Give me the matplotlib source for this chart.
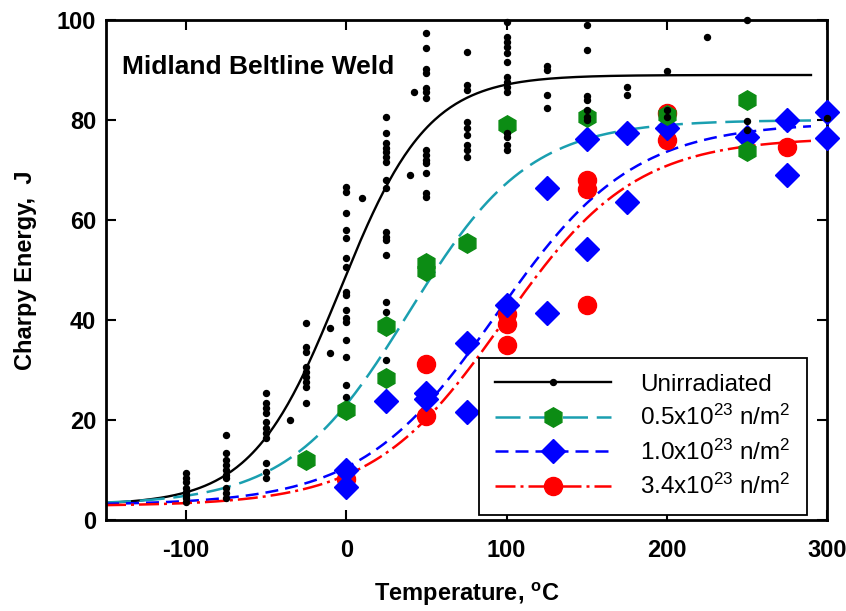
import numpy as np
import matplotlib
matplotlib.use('Agg')
import matplotlib.pyplot as plt
from matplotlib.lines import Line2D

plt.rcParams['font.family'] = ['Liberation Sans', 'DejaVu Sans']
plt.rcParams['mathtext.fontset'] = 'custom'
plt.rcParams['mathtext.rm'] = 'Liberation Sans'
plt.rcParams['mathtext.it'] = 'Liberation Sans:italic'
plt.rcParams['mathtext.bf'] = 'Liberation Sans:bold'
plt.rcParams['axes.unicode_minus'] = False

# ---------------- data ----------------
# Unirradiated Charpy tests (temperature C, energy J)
unirr_temp = ([-100] * 8 + [-75] * 10 + [-50] * 11 + [-35] + [-25] * 9 + [-10] * 2 +
              [0] * 16 + [10] + [25] * 16 + [40] + [42] + [50] * 14 + [75] * 9 +
              [100] * 14 + [125] * 4 + [150] * 7 + [175] * 2 + [200] * 3 + [225] +
              [250] * 3 + [300])
unirr_energy = [9.5, 8.4, 7.6, 6.4, 5.6, 5.0, 4.4, 3.6,
                17, 13.4, 12, 11, 10, 9, 8.4, 6.4, 5.4, 4.4,
                25.4, 23.4, 22.4, 21.4, 19.6, 18.4, 17.4, 16.4, 11.4, 9.6, 8.4,
                20,
                39.4, 34.6, 33.6, 30.6, 29.6, 28.6, 27.6, 26.6, 23.4,
                38.4, 33.4,
                66.6, 65.6, 61.4, 58, 56.4, 52.4, 50.6, 45.6, 45, 42, 40.4, 39.6, 36, 32.6, 27, 24.6,
                64.4,
                80.6, 77.4, 75.4, 74.4, 73.6, 72.6, 71.6, 68, 66.4, 57.6, 56.6, 56, 53, 43.6, 41.6, 32,
                69,
                85.6,
                97.4, 94.4, 90.2, 89.4, 86.4, 85.6, 84.4, 74, 73, 72, 71.4, 69.4, 65.4, 64.6,
                93.6, 87, 86, 79.6, 78.4, 77, 75, 74, 72.6,
                99.6, 96.6, 95.6, 94.6, 93.4, 91.6, 88.6, 87.6, 86.6, 85.6, 77.4, 76.6, 75, 74,
                90.8, 90, 85, 82.4,
                99, 94, 84.8, 84, 82, 80.6, 80,
                86.6, 85,
                89.8, 82, 80.6,
                96.6,
                100, 79.8, 78,
                80.5]

# 0.5x10^23 n/m^2
f05_temp = [-25, 0, 25, 25, 50, 50, 75, 100, 150, 200, 250, 250]
f05_energy = [12, 22, 38.8, 28.4, 51.5, 49.8, 55.4, 79, 80.6, 81, 84, 73.8]

# 1.0x10^23 n/m^2
f10_temp = [0, 0, 25, 50, 50, 75, 75, 100, 125, 125, 150, 150, 175, 175, 200, 250, 275, 275, 300, 300]
f10_energy = [10, 6.6, 23.8, 25.5, 24.2, 35.4, 21.6, 43, 41.4, 66.4, 76.2, 54.2, 77.4, 63.6, 78.4,
              76.6, 80, 69, 81.6, 76.4]

# 3.4x10^23 n/m^2
f34_temp = [0, 50, 50, 100, 100, 100, 150, 150, 150, 200, 200, 275]
f34_energy = [8.2, 31.2, 20.8, 41.2, 39.2, 35, 68, 66.2, 43, 81.4, 76, 74.6]

# tanh fit parameters: lower shelf, upper shelf, mid temperature, half width
fit_unirr = [3.0, 89.0, -4.0, 55.0]
fit_f05 = [3.0, 80.0, 39.0, 75.0]
fit_f10 = [3.0, 79.5, 94.0, 85.0]
fit_f34 = [2.8, 76.5, 98.0, 82.0]

labels = ['Unirradiated',
          r'0.5x10$^{23}$ n/m$^{2}$',
          r'1.0x10$^{23}$ n/m$^{2}$',
          r'3.4x10$^{23}$ n/m$^{2}$']

x_ticks = [-100, 0, 100, 200, 300]
y_ticks = [0, 20, 40, 60, 80, 100]


def tanh_fit(t, p):
    ls, us, t0, c = p
    return ls + (us - ls) / 2.0 * (1 + np.tanh((t - t0) / c))


# ---------------- style ----------------
c_black = 'black'
c_teal = '#1a9fb0'
c_green = '#0c8c14'
c_blue = '#0000ff'
c_red = '#ff0000'

ls_teal = (0, (10, 3.5))
ls_blue = (0, (5.2, 2.8))
ls_red = (0, (8, 2, 1.2, 2))

fig = plt.figure(figsize=(8.46, 6.11), dpi=100)
ax = fig.add_axes([106 / 846, 1 - 520 / 611, 721 / 846, 500 / 611])

tt = np.linspace(-150, 290, 400)
lw = 1.8
ax.plot(tt, tanh_fit(tt, fit_unirr), color=c_black, lw=1.7, zorder=2)
ax.plot(tt, tanh_fit(tt, fit_f05), color=c_teal, lw=lw, ls=ls_teal, zorder=2)
ax.plot(tt, tanh_fit(tt, fit_f10), color=c_blue, lw=lw, ls=ls_blue, zorder=2)
ax.plot(tt, tanh_fit(tt, fit_f34), color=c_red, lw=lw, ls=ls_red, zorder=2)

ax.plot(f34_temp, f34_energy, 'o', color=c_red, ms=13, mec=c_red, zorder=3, clip_on=False)
ax.plot(f10_temp, f10_energy, 'D', color=c_blue, ms=12, mec=c_blue, zorder=4, clip_on=False)
ax.plot(f05_temp, f05_energy, 'h', color=c_green, ms=14, mec=c_green, zorder=5, clip_on=False)
ax.plot(unirr_temp, unirr_energy, 'o', color=c_black, ms=4.3, zorder=6, clip_on=False)

ax.set_xlim(-150, 300)
ax.set_ylim(0, 100)
ax.set_xticks(x_ticks)
ax.set_yticks(y_ticks)
ax.tick_params(direction='in', length=7, width=1.5, top=True, right=True,
               labelsize=17)
ax.tick_params(axis='x', pad=14)
ax.tick_params(axis='y', pad=7)
for lab in ax.get_xticklabels() + ax.get_yticklabels():
    lab.set_fontweight('bold')
for sp in ax.spines.values():
    sp.set_linewidth(2.0)

ax.set_xlabel(r'Temperature, $\mathbf{^{o}}$C', fontsize=17, fontweight='bold', labelpad=13)
ax.set_ylabel('Charpy Energy,  J', fontsize=17, fontweight='bold', labelpad=14)

ax.text(-140, 90.6, 'Midland Beltline Weld', fontsize=19, fontweight='bold',
        ha='left', va='center')

handles = [
    Line2D([], [], color=c_black, lw=1.7, marker='o', ms=4.3, mfc=c_black, mec=c_black),
    Line2D([], [], color=c_teal, lw=lw, ls=ls_teal, marker='h', ms=14, mfc=c_green, mec=c_green),
    Line2D([], [], color=c_blue, lw=lw, ls=ls_blue, marker='D', ms=12, mfc=c_blue, mec=c_blue),
    Line2D([], [], color=c_red, lw=lw, ls=ls_red, marker='o', ms=13, mfc=c_red, mec=c_red),
]
leg = ax.legend(handles, labels, loc='lower right', bbox_to_anchor=(0.972, 0.01),
                fontsize=17.5, frameon=True, fancybox=False, framealpha=1,
                edgecolor='black', handlelength=4.8, handletextpad=1.2,
                labelspacing=0.38, borderpad=0.65, borderaxespad=0)
leg.get_frame().set_linewidth(1.3)
leg.set_zorder(10)

fig.savefig('out.png', dpi=100)
